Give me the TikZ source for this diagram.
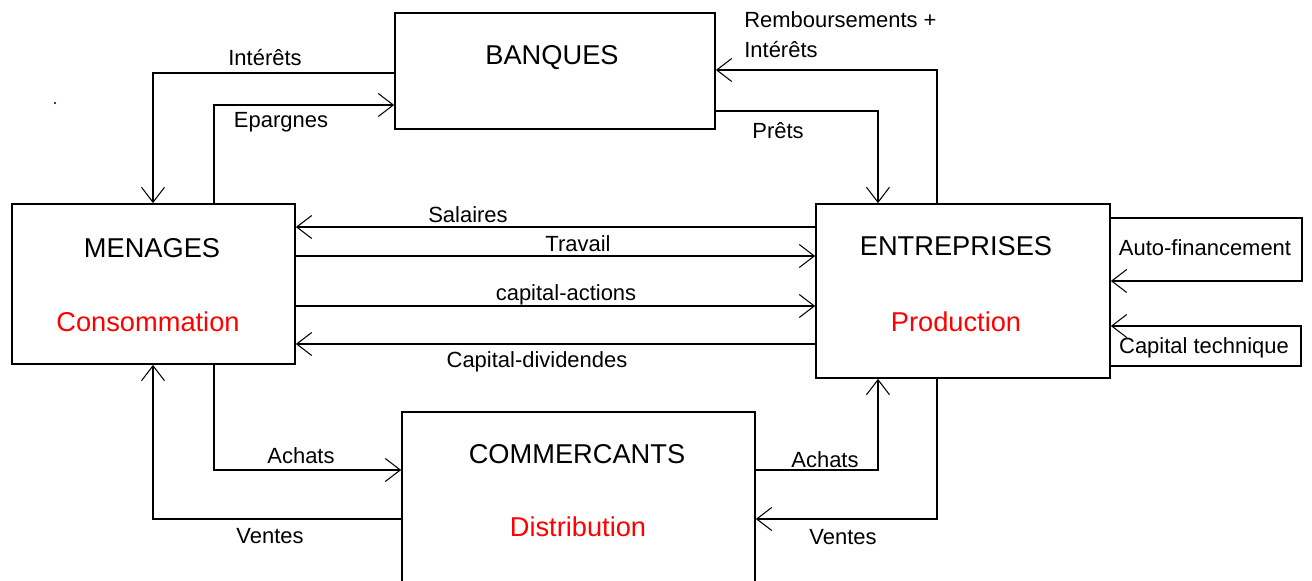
\documentclass[tikz,border=0pt]{standalone}
\usepackage{fontspec}
\setmainfont{Liberation Sans}
\usetikzlibrary{arrows.meta}
\tikzset{
    boite/.style={draw,line width=1pt,inner sep=0pt},
    fleche/.style={line width=1pt,-{Straight Barb[length=3mm,width=4.6mm,line width=0.6pt]}},
    trait/.style={line width=1pt},
    titre/.style={inner sep=0pt,font=\fontsize{15.5}{18}\selectfont},
    etiquette/.style={inner sep=0pt,font=\fontsize{12.5}{17}\selectfont}
}
\begin{document}
\begin{tikzpicture}[x=0.02cm,y=-0.02cm]
                    \useasboundingbox (0,0) rectangle (1312,581);

                    \node[boite,minimum width=6.4cm,minimum height=2.32cm] (banques) at (555,71) {};
                    \node[boite,minimum width=5.66cm,minimum height=3.2cm] (menages) at (153.5,284) {};
                    \node[boite,minimum width=5.88cm,minimum height=3.48cm] (entreprises) at (963,291) {};
                    \node[boite,minimum width=7.06cm,minimum height=3.56cm] (commercants) at (578.5,501) {};

                    \node[titre] (tbanques) at (552,58) {BANQUES};
                    \node[titre] (tmenages) at (152,248) {MENAGES};
                    \node[titre,red] (tconso) at (148,322) {Consommation};
                    \node[titre] (tentreprises) at (956,246) {ENTREPRISES};
                    \node[titre,red] (tprod) at (956,322) {Production};
                    \node[titre] (tcommercants) at (577,454) {COMMERCANTS};
                    \node[titre,red] (tdistrib) at (578,527) {Distribution};

                    \coordinate (af) at (1302,281);
                    \coordinate (ct) at (1301,326);

                    \draw[fleche] (banques.west |- 0,73) -| (menages.north -| 153,0);
                    \draw[fleche] (menages.north -| 214,0) |- (banques.west |- 0,105);
                    \draw[fleche] (entreprises.north -| 937,0) |- (banques.east |- 0,70);
                    \draw[fleche] (banques.east |- 0,111) -| (entreprises.north -| 878,0);

                    \draw[fleche] (entreprises.west |- 0,227) -- (menages.east |- 0,227);
                    \draw[fleche] (menages.east |- 0,256) -- (entreprises.west |- 0,256);
                    \draw[fleche] (menages.east |- 0,306) -- (entreprises.west |- 0,306);
                    \draw[fleche] (entreprises.west |- 0,344) -- (menages.east |- 0,344);

                    \draw[fleche] (menages.south -| 214,0) |- (commercants.west |- 0,470);
                    \draw[fleche] (commercants.west |- 0,519) -| (menages.south -| 153,0);
                    \draw[fleche] (commercants.east |- 0,470) -| (entreprises.south -| 878,0);
                    \draw[fleche] (entreprises.south -| 937,0) |- (commercants.east |- 0,519);

                    \draw[fleche] (entreprises.east |- 0,218) -| (af) -- (entreprises.east |- af);
                    \draw[fleche] (entreprises.east |- 0,366) -| (ct) -- (entreprises.east |- ct);

                    \node[etiquette] (linterets) at (265,58) {Intérêts};
                    \node[etiquette] (lepargnes) at (281,122) {Epargnes};
                    \node[etiquette,align=left,anchor=west] (lrembours) at (744,35) {Remboursements +\\Intérêts};
                    \node[etiquette] (lprets) at (778,131) {Prêts};
                    \node[etiquette] (lsalaires) at (468,215) {Salaires};
                    \node[etiquette] (ltravail) at (578,244) {Travail};
                    \node[etiquette] (lactions) at (566,295) {capital-actions};
                    \node[etiquette] (ldividendes) at (537,362) {Capital-dividendes};
                    \node[etiquette] (lachatsm) at (301,456) {Achats};
                    \node[etiquette] (lventesm) at (270,536) {Ventes};
                    \node[etiquette] (lachatse) at (825,460) {Achats};
                    \node[etiquette] (lventese) at (843,537) {Ventes};
                    \node[etiquette] (lautofin) at (1205,248) {Auto-financement};
                    \node[etiquette] (lcaptech) at (1204,348) {Capital technique};

                    \fill (55,103) circle (0.6pt);
\end{tikzpicture}
\end{document}
